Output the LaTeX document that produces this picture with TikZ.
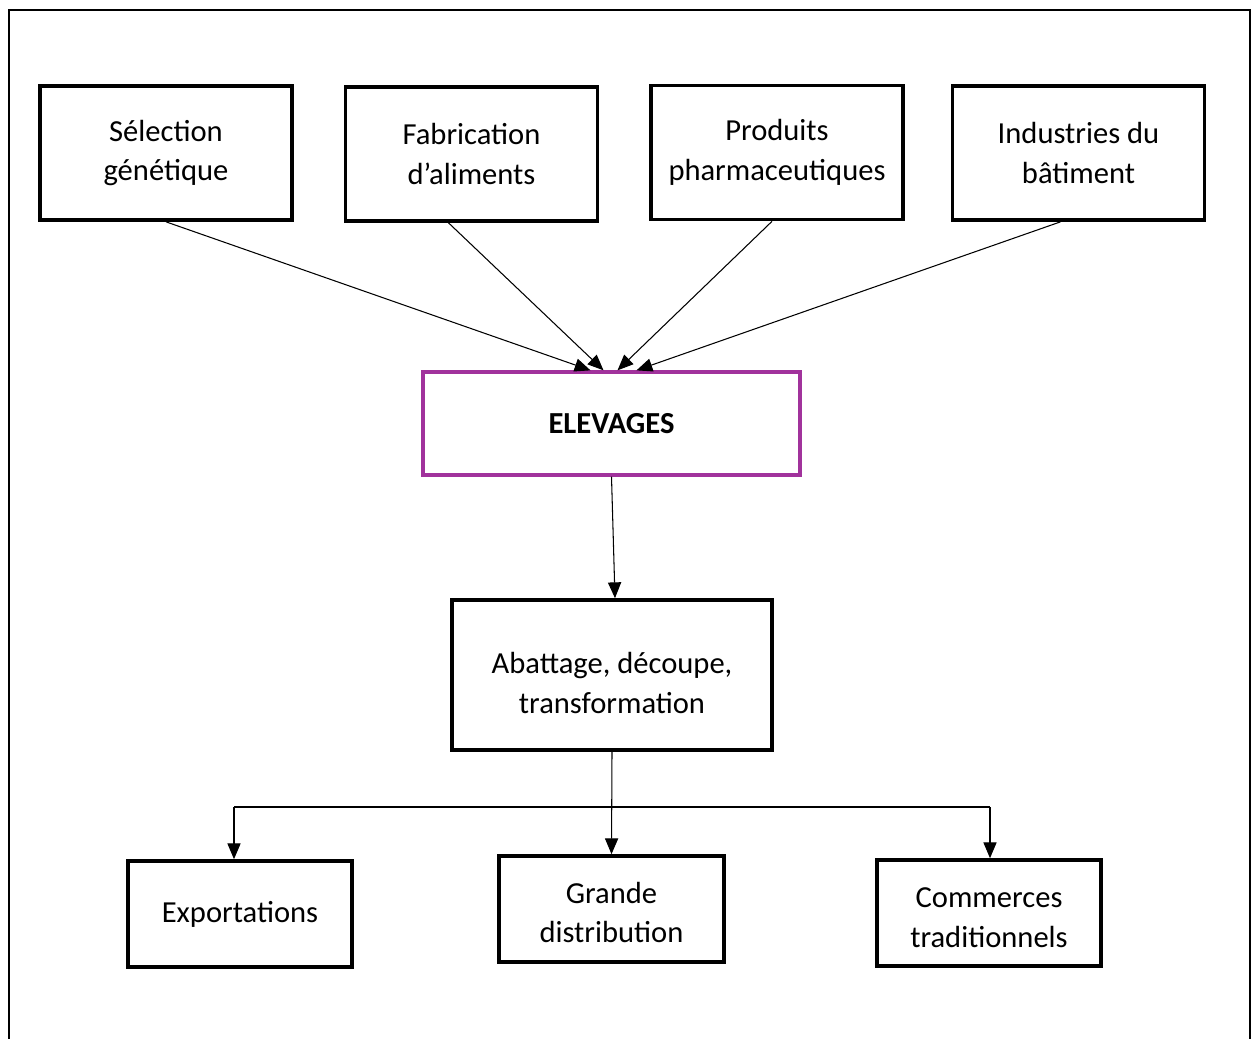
\documentclass[tikz,border=0pt]{standalone}
\usepackage{fontspec}
\setmainfont{Carlito}
\usetikzlibrary{arrows.meta,calc}

\definecolor{elevpurple}{RGB}{161,50,156}

\tikzstyle{line} = [line width=0.6pt]
\tikzstyle{arw} = [-{Triangle[length=9pt,width=7.5pt]}, line width=0.6pt]
\tikzstyle{box} = [draw, line width=2.1pt, align=center, inner sep=0pt, font=\fontsize{17.4}{22.7}\selectfont]

\begin{document}
\begin{tikzpicture}[x=0.02cm,y=-0.02cm]

    \useasboundingbox (0,0) rectangle (1254,1038);
    \draw [line width=1.2pt] (9,1060) -- (9,10) -- (1250,10) -- (1250,1060);

\node[box, minimum width=5.04cm, minimum height=2.68cm] (sel) at (166,153) {Sélection\\génétique};
\node[box, minimum width=5.04cm, minimum height=2.68cm] (fab) at (471.5,154) {Fabrication\\d’aliments};
\node[box, minimum width=5.04cm, minimum height=2.68cm] (pha) at (777,152.5) {Produits\\pharmaceutiques};
\node[box, minimum width=5.04cm, minimum height=2.68cm] (bat) at (1078.5,153) {Industries du\\bâtiment};

\node[box, draw=elevpurple, line width=1.9pt, minimum width=7.54cm, minimum height=2.06cm] (elev) at (611.5,423.5) {\textbf{ELEVAGES}};

\node[box, minimum width=6.4cm, minimum height=3cm] (abat) at (612,675) {\rule{0pt}{21pt}Abattage, découpe,\\transformation};

\node[box, minimum width=4.48cm, minimum height=2.12cm] (expo) at (240,914) {Exportations};
\node[box, minimum width=4.5cm, minimum height=2.12cm] (gran) at (611.5,909) {\rule{0pt}{16pt}Grande\\distribution};
\node[box, minimum width=4.48cm, minimum height=2.12cm] (comm) at (989,913) {\rule{0pt}{17pt}Commerces\\traditionnels};

    \draw[arw] (sel.south) -- ([xshift=-0.42cm]elev.north);
    \draw[arw] ([xshift=-0.46cm]fab.south) -- ([xshift=-0.16cm]elev.north);
    \draw[arw] ([xshift=-0.1cm]pha.south) -- ([xshift=0.12cm]elev.north);
    \draw[arw] ([xshift=-0.36cm]bat.south) -- ([xshift=0.5cm]elev.north);

    \draw[arw] (elev.south) -- ([xshift=0.06cm]abat.north);

    \coordinate (fork) at (612,807);
    \draw[arw] (abat.south) -- (gran.north);
    \draw[line] ([xshift=-0.12cm]expo.north |- fork) -- ([xshift=0.02cm]comm.north |- fork);
    \draw[arw] ([xshift=-0.12cm]expo.north |- fork) -- ([xshift=-0.12cm]expo.north);
    \draw[arw] ([xshift=0.02cm]comm.north |- fork) -- ([xshift=0.02cm]comm.north);

\end{tikzpicture}
\end{document}
